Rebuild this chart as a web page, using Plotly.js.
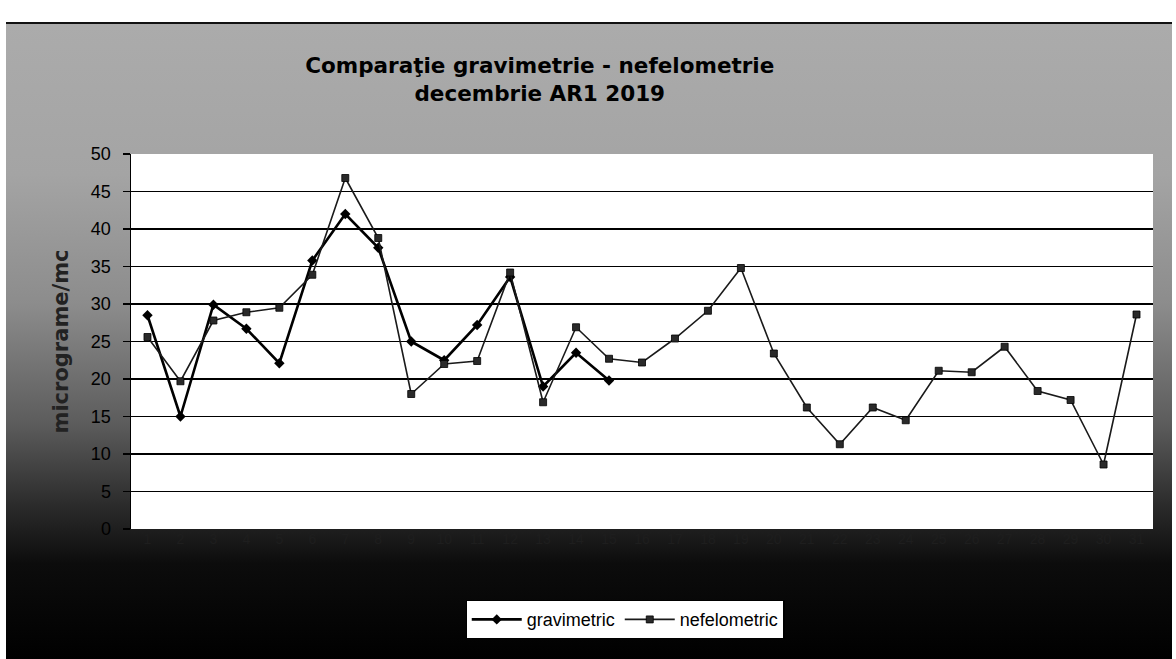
<!DOCTYPE html>
<html>
<head>
<meta charset="utf-8">
<script src="https://cdn.plot.ly/plotly-3.0.1.min.js"></script>
<style>
  html, body { margin: 0; padding: 0; background: #ffffff; }
  #wrap { position: relative; width: 1176px; height: 659px; overflow: hidden; background: #ffffff; }
  #bg { position: absolute; left: 6px; top: 22px; width: 1166px; height: 637px;
        border-top: 2px solid #111;
        background: linear-gradient(to bottom, #ababab 0px, #a4a4a4 150px, #8c8c8c 280px, #5c5c5c 400px, #2c2c2c 480px, #0c0c0c 540px, #000000 637px); }
  #chart { position: absolute; left: 0; top: 0; width: 1176px; height: 659px; }
</style>
</head>
<body>
<div id="wrap">
  <div id="bg"></div>
  <div id="chart"></div>
</div>
<script>
// Days of December 2019
const days = [1,2,3,4,5,6,7,8,9,10,11,12,13,14,15,16,17,18,19,20,21,22,23,24,25,26,27,28,29,30,31];
const dayLabels = days.map(String);

// gravimetric (µg/m³) – available for days 1..15
const gravimetric = [28.5,15.0,29.9,26.7,22.1,35.8,42.0,37.5,25.0,22.5,27.2,33.6,19.0,23.5,19.8];

// nefelometric (µg/m³) – days 1..31
const nefelometric = [25.6,19.7,27.8,28.9,29.5,33.9,46.8,38.8,18.0,22.0,22.4,34.2,16.9,26.9,22.7,22.2,25.4,29.1,34.8,23.4,16.2,11.3,16.2,14.5,21.1,20.9,24.3,18.4,17.2,8.6,28.6];

const yTicks = [0,5,10,15,20,25,30,35,40,45,50];

const traces = [
  {
    name: 'gravimetric',
    x: days.slice(0, gravimetric.length),
    y: gravimetric,
    type: 'scatter',
    mode: 'lines+markers',
    line: { color: '#000000', width: 2.6 },
    marker: { symbol: 'diamond', size: 8, color: '#000000' }
  },
  {
    name: 'nefelometric',
    x: days,
    y: nefelometric,
    type: 'scatter',
    mode: 'lines+markers',
    line: { color: '#1a1a1a', width: 1.6 },
    marker: { symbol: 'square', size: 7, color: '#2a2a2a', line: { color: '#000', width: 0.8 } }
  }
];

const layout = {
  width: 1176,
  height: 659,
  margin: { l: 131, r: 23, t: 154, b: 130, pad: 0 },
  paper_bgcolor: 'rgba(0,0,0,0)',
  plot_bgcolor: '#ffffff',
  showlegend: true,
  title: {
    text: 'Comparaţie gravimetrie - nefelometrie<br>decembrie AR1 2019',
    font: { family: 'DejaVu Sans, Arial, sans-serif', size: 21.5, color: '#000000', weight: 'bold' },
    xref: 'container', x: 0.459, xanchor: 'center',
    yref: 'container', y: 0.8896, yanchor: 'middle'
  },
  xaxis: {
    range: [0.5, 31.5],
    tickmode: 'array',
    tickvals: days,
    ticktext: dayLabels,
    showgrid: false,
    zeroline: false,
    showline: false,
    ticks: '',
    tickfont: { family: 'Liberation Sans, Arial, sans-serif', size: 14, color: '#1e1e1e' },
    fixedrange: true
  },
  yaxis: {
    range: [0, 50],
    tickmode: 'array',
    tickvals: yTicks,
    ticktext: yTicks.map(String),
    showgrid: true,
    gridcolor: '#000000',
    gridwidth: 1.4,
    zeroline: false,
    showline: true,
    linecolor: '#000000',
    linewidth: 1.5,
    ticks: 'outside',
    ticklen: 7,
    tickwidth: 1.5,
    tickcolor: '#000000',
    ticklabelstandoff: 8,
    tickfont: { family: 'Liberation Sans, Arial, sans-serif', size: 18, color: '#000000' },
    title: {
      text: 'micrograme/mc',
      font: { family: 'DejaVu Sans, Arial, sans-serif', size: 21, color: '#222222', weight: 'bold' },
      standoff: 16
    },
    automargin: false,
    fixedrange: true
  },
  legend: {
    orientation: 'h',
    xref: 'container', x: 0.5315, xanchor: 'center',
    yref: 'container', y: 0.0895, yanchor: 'top',
    bgcolor: '#ffffff',
    bordercolor: '#000000',
    borderwidth: 1.2,
    font: { family: 'Liberation Sans, Arial, sans-serif', size: 18, color: '#000000' },
    itemwidth: 50,
    tracegroupgap: 0
  }
};

Plotly.newPlot('chart', traces, layout, { displayModeBar: false, staticPlot: true });
</script>
</body>
</html>
